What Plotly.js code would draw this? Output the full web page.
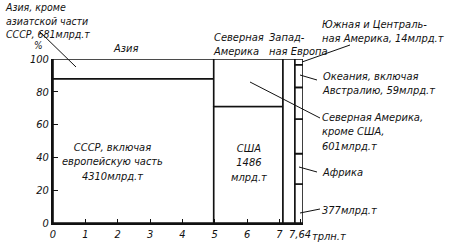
<!DOCTYPE html>
<html><head><meta charset="utf-8">
<script src="https://cdn.plot.ly/plotly-3.0.1.min.js"></script>
<style>html,body{margin:0;padding:0;background:#fff}#c{width:450px;height:244px}</style>
</head><body><div id="c"></div>
<script>
// Column widths, трлн.т
const columns = ['Азия', 'Северная Америка', 'Западная Европа', 'Прочие'];
const colWidths = [4.97, 2.14, 0.37, 0.25];
// Shares inside each column, %, bottom to top
const asiaShares = [88, 12];            // СССР, Азия кроме СССР
const naShares = [71, 29];              // США, Сев. Америка кроме США
const weShares = [100];                 // Западная Европа
const restShares = [23.8, 18.5, 21.1, 19.3, 13.8, 3.5]; // прочие регионы
const xTickVals = [0, 1, 2, 3, 4, 5, 6, 7, 7.64];
const xTickText = ['0', '1', '2', '3', '4', '5', '6', '7', '7,64'];
const yTickVals = [0, 20, 40, 60, 80, 100];
const yTickText = ['0', '20', '40', '60', '80', '100'];

const shares = [asiaShares, naShares, weShares, restShares];
const xs = [], ws = [], bs = [], hs = [];
let left = 0;
shares.forEach((arr, i) => {
  let base = 0;
  arr.forEach(v => {
    xs.push(left + colWidths[i] / 2); ws.push(colWidths[i]);
    bs.push(base); hs.push(v); base += v;
  });
  left += colWidths[i];
});

const FONT = '"Liberation Sans Narrow","DejaVu Sans Condensed","Liberation Sans",sans-serif';
const f = {family: FONT, size: 11, color: '#111', style: 'italic'};
const it = s => '<i>' + s + '</i>';

// pixel -> paper helpers for labels & leader lines
const L = 53, R = 303, T = 59, B = 223;
const px = x => (x - L) / (R - L);
const py = y => (B - y) / (B - T);
function ann(text, x, y, xa, ya, align, size) {
  return {text: text.split('<br>').map(it).join('<br>'), x: px(x), y: py(y), xref: 'paper', yref: 'paper',
          xanchor: xa, yanchor: ya, align: align || 'left', showarrow: false,
          font: Object.assign({}, f, size ? {size} : {}), borderpad: 0};
}
function seg(x0, y0, x1, y1) {
  return {type: 'line', xref: 'paper', yref: 'paper', x0: px(x0), y0: py(y0), x1: px(x1), y1: py(y1),
          line: {color: '#111', width: 1}};
}

const trace = {
  type: 'bar', x: xs, y: hs, base: bs, width: ws,
  marker: {color: 'rgba(255,255,255,1)', line: {color: '#111', width: 1.6}},
  hoverinfo: 'skip', showlegend: false
};

const layout = {
  width: 450, height: 244,
  margin: {l: L, r: 450 - R, t: T, b: 244 - B, pad: 0},
  paper_bgcolor: '#fff', plot_bgcolor: '#fff',
  barmode: 'overlay',
  xaxis: {range: [0, 7.73], tickvals: xTickVals, ticktext: xTickText.map(it), ticks: 'inside', ticklen: 4,
          tickcolor: '#111', showgrid: false, zeroline: false, showline: true, linecolor: '#111',
          linewidth: 2, tickfont: f, fixedrange: true},
  yaxis: {range: [0, 100], tickvals: yTickVals, ticktext: yTickText.map(it), ticks: 'inside', ticklen: 5,
          tickcolor: '#111', showgrid: false, zeroline: false, showline: true, linecolor: '#111',
          linewidth: 2, tickfont: f, fixedrange: true},
  annotations: [
    ann('Азия, кроме<br>азиатской части<br>СССР, 681млрд.т', 4, 0, 'left', 'top', 'left', 10.5),
    ann('%', 38, 46, 'center', 'middle', 'center', 10),
    ann('Азия', 125, 49, 'center', 'middle'),
    ann('Северная<br>Америка', 212, 30, 'left', 'top'),
    ann('Запад-<br>ная Европа', 268, 30, 'left', 'top'),
    ann('Южная и Централь-<br>ная Америка, 14млрд.т', 321, 17, 'left', 'top'),
    ann('Океания, включая<br>Австралию, 59млрд.т', 321, 69, 'left', 'top'),
    ann('Северная Америка,<br>кроме США,<br>601млрд.т', 321, 110, 'left', 'top'),
    ann('Африка', 321, 172, 'left', 'middle'),
    ann('377млрд.т', 321, 210, 'left', 'middle'),
    ann('СССР, включая<br>европейскую часть<br>4310млрд.т', 112, 162, 'center', 'middle', 'center'),
    ann('США<br>1486<br>млрд.т', 249, 163, 'center', 'middle', 'center'),
    ann('трлн.т', 311, 236, 'left', 'middle')
  ],
  shapes: [
    seg(40, 32, 76, 67),
    seg(350, 45, 302, 62),
    seg(317, 80, 300, 75),
    seg(250, 82, 320, 118),
    seg(317, 172, 299, 167),
    seg(320, 209, 300, 213)
  ]
};

Plotly.newPlot('c', [trace], layout, {staticPlot: true, displayModeBar: false});
</script></body></html>
